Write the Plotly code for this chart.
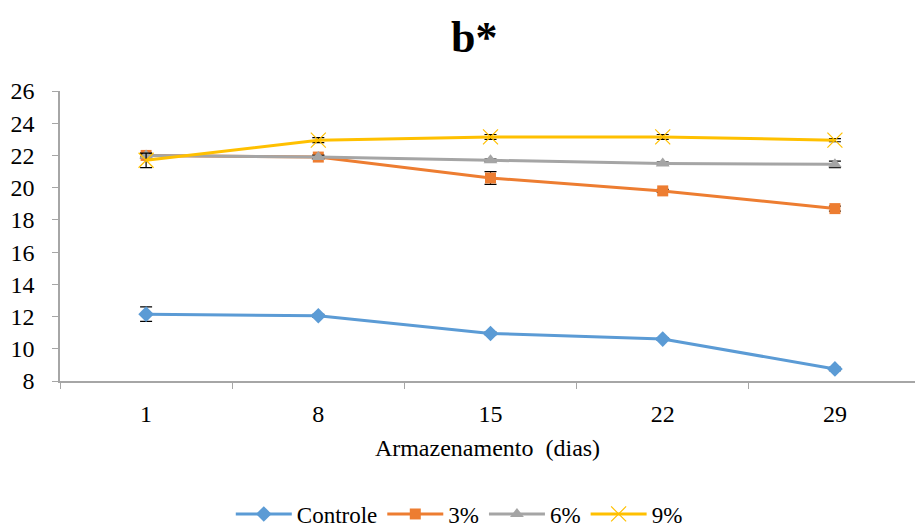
import plotly.graph_objects as go

days = ["1", "8", "15", "22", "29"]
series_names = ["Controle", "3%", "6%", "9%"]
controle = [12.15, 12.05, 10.95, 10.6, 8.75]
p3 = [22.0, 21.9, 20.6, 19.8, 18.7]
p6 = [22.0, 21.9, 21.7, 21.5, 21.45]
p9 = [21.7, 22.95, 23.15, 23.15, 22.95]
err_controle = [0.45, 0.08, 0.08, 0.08, 0.1]
err_p3 = [0.15, 0.12, 0.4, 0.1, 0.15]
err_p6 = [0.1, 0.1, 0.08, 0.08, 0.2]
err_p9 = [0.45, 0.15, 0.15, 0.15, 0.1]

colors = ["#5B9BD5", "#ED7D31", "#A5A5A5", "#FFC000"]
symbols = ["diamond", "square", "triangle-up", "x-thin-open"]
sizes = [12, 11, 12, 15]
values = [controle, p3, p6, p9]
errs = [err_controle, err_p3, err_p6, err_p9]

SERIF = "Liberation Serif, Times New Roman, DejaVu Serif, serif"

fig = go.Figure()
for name, v, e, c, s, sz in zip(series_names, values, errs, colors, symbols, sizes):
    marker = dict(symbol=s, size=sz, color=c)
    if s.startswith("x"):
        marker["line"] = dict(color=c, width=1.2)
    fig.add_trace(go.Scatter(
        x=days, y=v, name=name, mode="lines+markers",
        line=dict(color=c, width=3),
        marker=marker,
        error_y=dict(type="data", array=e, visible=True, color="black", thickness=1.2, width=6),
    ))

fig.update_layout(
    width=915, height=531,
    margin=dict(l=60, r=0, t=91, b=150, autoexpand=False),
    paper_bgcolor="white", plot_bgcolor="white",
    font=dict(family=SERIF, size=24, color="black"),
    showlegend=True,
    legend=dict(orientation="h", x=0.467, xanchor="center",
                yref="container", y=(531 - 514) / 531, yanchor="middle",
                font=dict(size=23, family=SERIF), itemwidth=56, tracegroupgap=0),
    annotations=[dict(text="<b>b*</b>", x=(474 - 60) / 855, xref="paper",
                      y=1 + (91 - 37) / 290, yref="paper",
                      xanchor="center", yanchor="middle",
                      showarrow=False, font=dict(size=44, family=SERIF))],
)

fig.update_xaxes(
    type="category", range=[-0.5, 4.465],
    showline=True, linecolor="#A6A6A6", linewidth=1.5,
    ticks="outside", tickson="boundaries", ticklen=6, tickcolor="#A6A6A6",
    showgrid=False, zeroline=False,
    title=dict(text="Armazenamento  (dias)", font=dict(size=24, family=SERIF), standoff=14),
    tickfont=dict(size=24, family=SERIF), ticklabelstandoff=10,
)
fig.update_yaxes(
    range=[8, 26], dtick=2, tick0=8,
    showline=True, linecolor="#A6A6A6", linewidth=1.5,
    ticks="outside", ticklen=6, tickcolor="#A6A6A6",
    showgrid=False, zeroline=False,
    tickfont=dict(size=24, family=SERIF), ticklabelstandoff=13,
)

fig.write_html("out.html")
